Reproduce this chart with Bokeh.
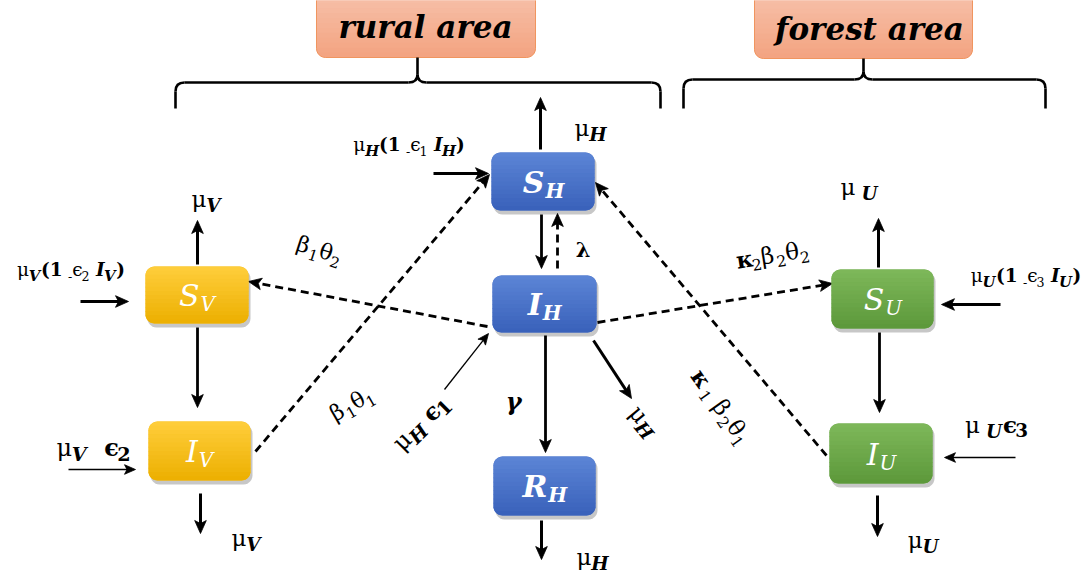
import numpy as np
from bokeh.plotting import figure
from bokeh.models import Range1d
from bokeh.core.properties import value
from bokeh.embed import file_html
from bokeh.resources import INLINE

# ---------------- data ----------------
compartments = ["S_H", "I_H", "R_H", "S_V", "I_V", "S_U", "I_U"]
comp_letter = ["S", "I", "R", "S", "I", "S", "I"]
comp_sub = ["H", "H", "H", "V", "V", "U", "U"]
comp_group = ["human", "human", "human", "vector", "vector", "reservoir", "reservoir"]
areas = ["rural area", "forest area"]

# transitions between compartments: (from, to, style)
transitions = [
    ("S_H", "I_H", "solid"),
    ("I_H", "S_H", "dashed"),
    ("I_H", "R_H", "solid"),
    ("S_V", "I_V", "solid"),
    ("S_U", "I_U", "solid"),
    ("I_H", "S_V", "dashed"),
    ("I_V", "S_H", "dashed"),
    ("I_H", "S_U", "dashed"),
    ("I_U", "S_H", "dashed"),
]
# births / deaths
external = ["out_SH", "in_SH", "out_IH", "in_IH", "out_RH",
            "out_SV", "in_SV", "out_IV", "in_IV",
            "out_SU", "in_SU", "out_IU", "in_IU"]

# ---------------- layout (pixels) ----------------
BOX = {  # x0, x1, y0, y1
    "S_H": (491, 594, 152, 210), "I_H": (492, 596, 275, 332), "R_H": (493, 595, 456, 515),
    "S_V": (145, 248, 266, 323), "I_V": (148, 250, 421, 480),
    "S_U": (831, 933, 269, 328), "I_U": (829, 932, 423, 483),
}
GRAD = {
    "human": ((92, 133, 214), (57, 97, 186)),
    "vector": ((255, 206, 60), (236, 175, 0)),
    "reservoir": ((126, 184, 90), (92, 152, 58)),
    "area": ((247, 195, 173), (243, 163, 128)),
}
LABEL_STYLE = {"human": "bold italic", "vector": "italic", "reservoir": "italic"}
AREA_BOX = {"rural area": (316, 535, -12, 57), "forest area": (754, 972, -12, 58)}
AREA_TXT = {"rural area": (425, 37), "forest area": (869, 39)}
BRACES = [(175, 417, 660, 82, 108, 57), (683, 863, 1045, 79, 108, 58)]

TRANS_XY = {
    ("S_H", "I_H"): (541, 214, 541, 268),
    ("I_H", "S_H"): (557, 268, 557, 213),
    ("I_H", "R_H"): (545, 335, 545, 452),
    ("S_V", "I_V"): (197, 327, 197, 407),
    ("S_U", "I_U"): (879, 332, 879, 412),
    ("I_H", "S_V"): (487, 326, 248, 281),
    ("I_V", "S_H"): (255, 451, 489, 174),
    ("I_H", "S_U"): (597, 322, 832, 283),
    ("I_U", "S_H"): (826, 455, 595, 182),
}
EXT_XY = {  # x0, y0, x1, y1, width
    "out_SH": (540, 149, 540, 97, 3), "in_SH": (433, 173, 488, 173, 3),
    "out_IH": (593, 340, 631, 398, 3), "in_IH": (444, 389, 488, 333, 1.3),
    "out_RH": (541, 520, 541, 559, 3),
    "out_SV": (197, 264, 197, 220, 3), "in_SV": (80, 301, 128, 301, 3),
    "out_IV": (200, 493, 200, 533, 3), "in_IV": (68, 469, 135, 469, 1.3),
    "out_SU": (878, 267, 878, 218, 3), "in_SU": (1000, 304, 941, 304, 3),
    "out_IU": (877, 495, 877, 536, 3), "in_IU": (1015, 457, 944, 457, 1.3),
}

# rich text labels: (cx, cy, size, angle, runs)
LABELS = [
    (590, 127, 23, 0, [("μ", "r"), ("H", "sbi")]),
    (408, 144, 18.5, 0, [("μ", "r"), ("H", "sbi"), ("(1 ", "b"), ("-", "s"), ("ϵ", "r"), ("1", "s"), (" I", "bi"), ("H", "sbi"), (")", "b")]),
    (582, 249, 21, 0, [("λ", "b")]),
    (513, 401, 24, 0, [("γ", "bi")]),
    (644, 420, 23, -50, [("μ", "r"), ("H", "sbi")]),
    (420, 422, 24, 45, [("μ", "r"), ("H", "sbi"), (" ϵ", "b"), ("1", "sb")]),
    (592, 556, 23, 0, [("μ", "r"), ("H", "sbi")]),
    (206, 198, 23, 0, [("μ", "r"), ("V", "sbi")]),
    (70, 269, 18.5, 0, [("μ", "r"), ("V", "sbi"), ("(1 ", "b"), ("-", "s"), ("ϵ", "r"), ("2", "s"), (" I", "bi"), ("V", "sbi"), (")", "b")]),
    (93, 447, 24, 0, [("μ", "r"), ("V", "sbi"), ("  ϵ", "b"), ("2", "sb")]),
    (246, 537, 23, 0, [("μ", "r"), ("V", "sbi")]),
    (859, 186, 23, 0, [("μ", "r"), (" U", "sbi")]),
    (772, 254, 23, 9, [("κ", "b"), ("2", "s"), ("β", "r"), ("2", "s"), ("θ", "r"), ("2", "s")]),
    (1025, 275, 18.5, 0, [("μ", "r"), ("U", "sbi"), ("(1 ", "b"), ("-", "s"), ("ϵ", "r"), ("3", "s"), (" I", "bi"), ("U", "sbi"), (")", "b")]),
    (996, 424, 23, 0, [("μ", "r"), (" U", "sbi"), ("ϵ", "b"), ("3", "sb")]),
    (923, 539, 23, 0, [("μ", "r"), ("U", "sbi")]),
    (721, 406, 23, -55, [("κ", "b"), (" 1", "s"), (" β", "r"), ("2", "s"), ("θ", "r"), ("1", "s")]),
    (319, 249, 22, -18, [("β", "r"), ("1", "s"), ("θ", "r"), ("2", "s")]),
    (351, 403, 22, 30, [("β", "r"), ("1", "s"), ("θ", "r"), ("1", "s")]),
]

FONT = "DejaVu Serif"
BASE_CORR = 0.34  # measured offset of rendered baseline, in em
STY = {
    "r": dict(scale=1.0, dy=0.0, style="normal", bold=False),
    "b": dict(scale=1.0, dy=0.0, style="bold", bold=True),
    "bi": dict(scale=1.0, dy=0.0, style="bold italic", bold=True),
    "sbi": dict(scale=0.8, dy=0.22, style="bold italic", bold=True),
    "sb": dict(scale=0.8, dy=0.18, style="bold", bold=True),
    "s": dict(scale=0.68, dy=0.22, style="normal", bold=False),
}
CW = {" ": 0.32, "(": 0.39, ")": 0.39, "1": 0.64, "2": 0.64, "3": 0.64, "I": 0.4,
      "H": 0.87, "V": 0.77, "U": 0.85, "S": 0.68, "R": 0.77, "-": 0.34,
      "μ": 0.64, "ϵ": 0.5, "β": 0.64, "θ": 0.6, "κ": 0.6, "γ": 0.6, "λ": 0.6}

W, H = 1089, 580
p = figure(width=W, height=H, x_range=Range1d(0, W), y_range=Range1d(H, 0),
           output_backend="svg", toolbar_location=None, min_border=0,
           x_axis_type=None, y_axis_type=None)
p.xgrid.visible = False
p.ygrid.visible = False
p.outline_line_color = None
p.background_fill_color = "white"
p.border_fill_color = "white"


def rr_inset(y, y0, y1, r):
    if y < y0 + r:
        d = y0 + r - y
    elif y > y1 - r:
        d = y - (y1 - r)
    else:
        return 0.0
    d = min(d, r)
    return r - np.sqrt(max(r * r - d * d, 0.0))


def rrect(x0, x1, y0, y1, r, n=7):
    xs, ys = [], []
    corners = [(x0 + r, y0 + r, np.pi), (x1 - r, y0 + r, 1.5 * np.pi),
               (x1 - r, y1 - r, 0.0), (x0 + r, y1 - r, 0.5 * np.pi)]
    for cx, cy, a0 in corners:
        t = np.linspace(a0, a0 + np.pi / 2, n)
        xs += list(cx + r * np.cos(t))
        ys += list(cy + r * np.sin(t))
    return xs, ys


def gradient_box(x0, x1, y0, y1, r, c_top, c_bot, shadow=True, nstrip=14):
    if shadow:
        sx, sy = rrect(x0 + 2, x1 + 2, y0 + 3, y1 + 4, r)
        p.patch(sx, sy, fill_color="black", fill_alpha=0.22, line_color=None)
    bx, by = rrect(x0, x1, y0, y1, r)
    mid = tuple(int((a + b) / 2) for a, b in zip(c_top, c_bot))
    p.patch(bx, by, fill_color=mid, line_color=None)
    edges = np.linspace(y0, y1, nstrip + 1)
    pxs, pys, cols = [], [], []
    for i in range(nstrip):
        ya, yb = edges[i], min(edges[i + 1] + 0.6, y1)
        ss = np.linspace(ya, yb, 5)
        left = [x0 + rr_inset(s, y0, y1, r) for s in ss]
        right = [x1 - rr_inset(s, y0, y1, r) for s in ss[::-1]]
        pxs.append(left + right)
        pys.append(list(ss) + list(ss[::-1]))
        f = (i + 0.5) / nstrip
        c = tuple(int(round(a + (b - a) * f)) for a, b in zip(c_top, c_bot))
        cols.append("#%02x%02x%02x" % c)
    p.patches(pxs, pys, fill_color=cols, line_color=None)


def put_text(x, y, txt, fs, style, angle=0.0, align="left", color="black"):
    a = np.radians(angle)
    c = BASE_CORR * fs
    X = x - c * np.sin(a)
    Y = y - c * np.cos(a)
    p.text(x=[X], y=[Y], text=[txt], angle=angle, angle_units="deg",
           text_font=value(FONT), text_font_size=f"{fs:.1f}px",
           text_font_style=style, text_align=align,
           text_baseline="alphabetic", text_color=color)


def rich(cx, cy, size, angle, runs, color="black"):
    pieces, adv = [], 0.0
    for txt, st in runs:
        s = STY[st]
        fs = size * s["scale"]
        k = 1.08 if s["bold"] else 1.0
        w = sum(CW.get(c, 0.6) for c in txt) * fs * k
        lead = (len(txt) - len(txt.lstrip(" "))) * CW[" "] * fs * k
        if txt.strip():
            pieces.append((txt.strip(), s, fs, adv + lead, size * s["dy"]))
        adv += w
    a = np.radians(angle)
    ca, sa = np.cos(a), np.sin(a)
    for txt, s, fs, ox, dy in pieces:
        u = -adv / 2 + ox
        v = 0.35 * size + dy
        X = cx + u * ca + v * sa
        Y = cy - u * sa + v * ca
        put_text(X, Y, txt, fs, s["style"], angle=angle, color=color)


shafts = {}   # (lw, dash) -> ([xs], [ys])
heads_x, heads_y = [], []


def arrow(x0, y0, x1, y1, lw=3.0, dash="solid", L=13.0, hw=5.8, notch=3.0):
    d = np.array([x1 - x0, y1 - y0], dtype=float)
    u = d / np.hypot(*d)
    pp = np.array([-u[1], u[0]])
    tip = np.array([x1, y1], dtype=float)
    base = tip - L * u
    nt = tip - (L - notch) * u
    key = (lw, dash)
    shafts.setdefault(key, ([], []))
    shafts[key][0].append([x0, nt[0] + 0.5 * u[0]])
    shafts[key][1].append([y0, nt[1] + 0.5 * u[1]])
    pts = [tip, base + hw * pp, nt, base - hw * pp]
    heads_x.append([q[0] for q in pts])
    heads_y.append([q[1] for q in pts])


def brace(xl, xm, xr, yl, yb, yt):
    k = 9
    segs = [((xl, yb), (xl, yl + k)), ((xl + k, yl), (xm - k, yl)), ((xm, yl - 8), (xm, yt)),
            ((xm + k, yl), (xr - k, yl)), ((xr, yl + k), (xr, yb))]
    p.multi_line([[a[0], b[0]] for a, b in segs], [[a[1], b[1]] for a, b in segs],
                 line_color="black", line_width=2.6)
    qs = [(xl, yl + k, xl + k, yl, xl, yl), (xm - k, yl, xm, yl - 8, xm, yl),
          (xm + k, yl, xm, yl - 8, xm, yl), (xr - k, yl, xr, yl + k, xr, yl)]
    p.quadratic(x0=[q[0] for q in qs], y0=[q[1] for q in qs], x1=[q[2] for q in qs],
                y1=[q[3] for q in qs], cx=[q[4] for q in qs], cy=[q[5] for q in qs],
                line_color="black", line_width=2.6)


# area headers
for name in areas:
    x0, x1, y0, y1 = AREA_BOX[name]
    bx, by = rrect(x0, x1, y0, y1, 9)
    gradient_box(x0, x1, y0, y1, 9, *GRAD["area"], shadow=False)
    p.patch(bx, by, fill_color=None, line_color="#f0955f", line_width=1)
    tx, ty = AREA_TXT[name]
    put_text(tx, ty, name, 31, "bold italic", align="center")
for b in BRACES:
    brace(*b)

# arrows
for src, dst, style in transitions:
    x0, y0, x1, y1 = TRANS_XY[(src, dst)]
    arrow(x0, y0, x1, y1, lw=2.8, dash="solid" if style == "solid" else "8 5")
for name in external:
    x0, y0, x1, y1, lw = EXT_XY[name]
    if lw > 2:
        arrow(x0, y0, x1, y1, lw=lw)
    else:
        arrow(x0, y0, x1, y1, lw=lw, L=11, hw=4.8, notch=2.5)
for (lw, dash), (xs, ys) in shafts.items():
    p.multi_line(xs, ys, line_color="black", line_width=lw, line_dash=dash)
p.patches(heads_x, heads_y, fill_color="black", line_color="black", line_width=0.8)

# compartments
for cid, let, sub, grp in zip(compartments, comp_letter, comp_sub, comp_group):
    x0, x1, y0, y1 = BOX[cid]
    gradient_box(x0, x1, y0, y1, 9, *GRAD[grp])
    cx, cy = (x0 + x1) / 2, (y0 + y1) / 2
    wm = CW[let] * 30
    ws = CW[sub] * 20
    jx = cx + (wm - ws) / 2
    st = LABEL_STYLE[grp]
    put_text(jx, cy + 11, let, 30, st, align="right", color="white")
    put_text(jx + 1, cy + 16, sub, 20, st, align="left", color="white")

for cx, cy, size, ang, runs in LABELS:
    rich(cx, cy, size, ang, runs)

open("out.html", "w").write(file_html(p, INLINE))
